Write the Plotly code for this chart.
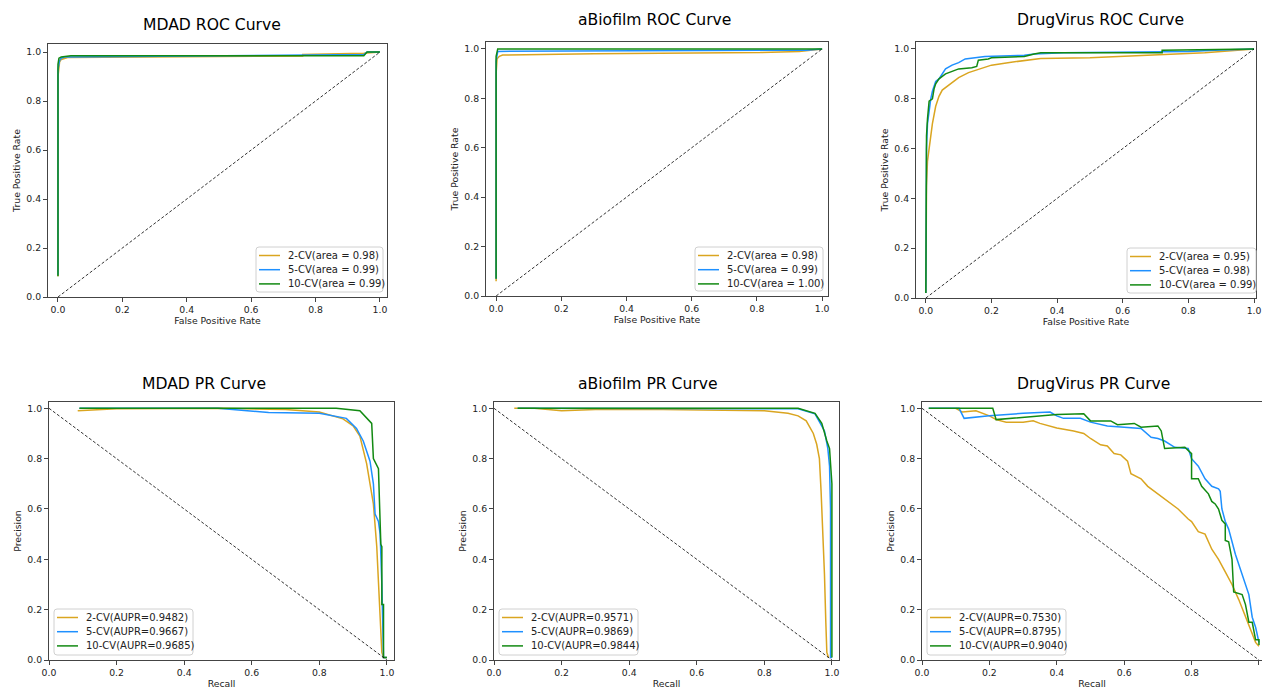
import plotly.graph_objects as go

W, H = 1262, 689

# ---------------- DATA ----------------
series_names = ["2-CV", "5-CV", "10-CV"]

# MDAD ROC
mdad_roc_2cv_fpr = [0.0, 0.0, 0.005, 0.01, 0.03, 0.3, 0.76, 0.76, 0.95, 1.0]
mdad_roc_2cv_tpr = [0.085, 0.90, 0.96, 0.97, 0.978, 0.98, 0.984, 0.99, 0.995, 1.0]
mdad_roc_5cv_fpr = [0.0, 0.0, 0.005, 0.01, 0.02, 0.5, 0.95, 0.96, 1.0]
mdad_roc_5cv_tpr = [0.09, 0.93, 0.965, 0.975, 0.98, 0.985, 0.99, 1.0, 1.0]
mdad_roc_10cv_fpr = [0.0, 0.0, 0.003, 0.01, 0.04, 0.5, 0.95, 0.96, 1.0]
mdad_roc_10cv_tpr = [0.085, 0.95, 0.975, 0.98, 0.985, 0.985, 0.985, 1.0, 1.0]
mdad_roc_auc = ["0.98", "0.99", "0.99"]

# aBiofilm ROC
abio_roc_2cv_fpr = [0.0, 0.0, 0.003, 0.01, 0.02, 0.3, 0.81, 0.93, 1.0]
abio_roc_2cv_tpr = [0.06, 0.90, 0.96, 0.97, 0.975, 0.98, 0.985, 0.99, 1.0]
abio_roc_5cv_fpr = [0.0, 0.0, 0.005, 0.93, 0.95, 1.0]
abio_roc_5cv_tpr = [0.07, 0.95, 0.99, 0.992, 0.995, 1.0]
abio_roc_10cv_fpr = [0.0, 0.0, 0.005, 1.0]
abio_roc_10cv_tpr = [0.07, 0.97, 1.0, 1.0]
abio_roc_auc = ["0.98", "0.99", "1.00"]

# DrugVirus ROC
drug_roc_2cv_fpr = [0.0, 0.002, 0.005, 0.01, 0.015, 0.02, 0.03, 0.04, 0.05, 0.07, 0.1,
                    0.13, 0.16, 0.2, 0.25, 0.3, 0.35, 0.5, 0.6, 0.7, 0.85, 0.95, 1.0]
drug_roc_2cv_tpr = [0.02, 0.45, 0.55, 0.60, 0.65, 0.70, 0.77, 0.81, 0.835, 0.855, 0.885,
                    0.905, 0.918, 0.935, 0.945, 0.952, 0.962, 0.965, 0.97, 0.978, 0.985, 0.995, 1.0]
drug_roc_5cv_fpr = [0.0, 0.002, 0.005, 0.01, 0.015, 0.02, 0.03, 0.04, 0.05, 0.06, 0.08, 0.1,
                    0.12, 0.15, 0.18, 0.3, 0.33, 0.42, 0.8, 0.88, 1.0]
drug_roc_5cv_tpr = [0.02, 0.60, 0.70, 0.76, 0.80, 0.83, 0.87, 0.88, 0.90, 0.92, 0.935, 0.945,
                    0.96, 0.965, 0.97, 0.975, 0.98, 0.985, 0.99, 0.995, 1.0]
drug_roc_10cv_fpr = [0.0, 0.002, 0.005, 0.01, 0.02, 0.025, 0.03, 0.04, 0.05, 0.06, 0.08, 0.1,
                     0.14, 0.155, 0.16, 0.19, 0.2, 0.3, 0.33, 0.35, 0.72, 0.72, 1.0]
drug_roc_10cv_tpr = [0.02, 0.65, 0.72, 0.79, 0.80, 0.84, 0.86, 0.88, 0.89, 0.90, 0.91, 0.92,
                     0.925, 0.93, 0.955, 0.96, 0.965, 0.97, 0.98, 0.985, 0.985, 0.995, 1.0]
drug_roc_auc = ["0.95", "0.98", "0.99"]

# MDAD PR
mdad_pr_2cv_rec = [0.085, 0.2, 0.5, 0.7, 0.8, 0.87, 0.9, 0.92, 0.94, 0.95, 0.96, 0.97,
                   0.975, 0.98, 0.985, 0.99, 1.0]
mdad_pr_2cv_prec = [0.99, 0.998, 1.0, 0.995, 0.985, 0.958, 0.93, 0.89, 0.78, 0.70, 0.62, 0.45,
                    0.32, 0.15, 0.03, 0.01, 0.01]
mdad_pr_5cv_rec = [0.09, 0.5, 0.65, 0.8, 0.88, 0.91, 0.93, 0.95, 0.96, 0.965, 0.975, 0.98,
                   0.985, 0.99, 1.0]
mdad_pr_5cv_prec = [1.0, 1.0, 0.983, 0.98, 0.96, 0.92, 0.87, 0.79, 0.70, 0.58, 0.55, 0.50,
                    0.30, 0.01, 0.01]
mdad_pr_10cv_rec = [0.09, 0.85, 0.92, 0.955, 0.96, 0.975, 0.978, 0.982, 0.985, 0.985, 0.99,
                    0.99, 1.0]
mdad_pr_10cv_prec = [1.0, 1.0, 0.99, 0.94, 0.80, 0.76, 0.63, 0.46, 0.45, 0.22, 0.22, 0.01, 0.01]
mdad_pr_aupr = ["0.9482", "0.9667", "0.9685"]

# aBiofilm PR
abio_pr_2cv_rec = [0.06, 0.12, 0.2, 0.3, 0.5, 0.8, 0.87, 0.9, 0.924, 0.945, 0.955, 0.963,
                   0.968, 0.973, 0.978, 0.982, 0.985, 0.99]
abio_pr_2cv_prec = [1.0, 1.0, 0.99, 0.995, 0.995, 0.99, 0.98, 0.97, 0.95, 0.90, 0.857, 0.80,
                    0.67, 0.51, 0.34, 0.15, 0.03, 0.01]
abio_pr_5cv_rec = [0.07, 0.9, 0.95, 0.978, 0.988, 0.993, 0.996, 0.996, 1.0]
abio_pr_5cv_prec = [1.0, 0.998, 0.978, 0.91, 0.84, 0.77, 0.60, 0.01, 0.01]
abio_pr_10cv_rec = [0.07, 0.9, 0.95, 0.97, 0.985, 0.993, 1.0, 1.0]
abio_pr_10cv_prec = [1.0, 1.0, 0.98, 0.94, 0.87, 0.84, 0.70, 0.01]
abio_pr_aupr = ["0.9571", "0.9869", "0.9844"]

# DrugVirus PR
drug_pr_2cv_rec = [0.1, 0.12, 0.16, 0.2, 0.22, 0.25, 0.3, 0.33, 0.35, 0.4, 0.45, 0.48, 0.5,
                   0.53, 0.55, 0.57, 0.59, 0.61, 0.62, 0.65, 0.67, 0.7, 0.73, 0.76, 0.79,
                   0.8, 0.82, 0.84, 0.86, 0.88, 0.9, 0.92, 0.94, 0.96, 0.98, 0.99, 1.0]
drug_pr_2cv_prec = [1.0, 0.985, 0.99, 0.97, 0.955, 0.945, 0.945, 0.95, 0.94, 0.922, 0.91, 0.90,
                    0.88, 0.855, 0.85, 0.82, 0.815, 0.79, 0.74, 0.72, 0.69, 0.66, 0.63, 0.60,
                    0.56, 0.55, 0.51, 0.50, 0.44, 0.40, 0.35, 0.30, 0.24, 0.17, 0.10, 0.07, 0.055]
drug_pr_5cv_rec = [0.02, 0.11, 0.125, 0.2, 0.3, 0.38, 0.4, 0.42, 0.47, 0.5, 0.55, 0.6, 0.65,
                   0.68, 0.7, 0.72, 0.75, 0.79, 0.8, 0.82, 0.84, 0.86, 0.88, 0.885, 0.89,
                   0.9, 0.91, 0.93, 0.95, 0.97, 0.98, 0.99, 1.0]
drug_pr_5cv_prec = [1.0, 1.0, 0.96, 0.97, 0.98, 0.985, 0.97, 0.96, 0.96, 0.945, 0.93, 0.925,
                    0.92, 0.885, 0.88, 0.87, 0.845, 0.84, 0.80, 0.77, 0.72, 0.69, 0.68, 0.67,
                    0.60, 0.55, 0.52, 0.42, 0.34, 0.26, 0.17, 0.13, 0.07]
drug_pr_10cv_rec = [0.02, 0.21, 0.22, 0.3, 0.4, 0.48, 0.5, 0.56, 0.58, 0.63, 0.65, 0.7, 0.71,
                    0.72, 0.78, 0.8, 0.8, 0.82, 0.83, 0.85, 0.86, 0.87, 0.88, 0.89, 0.9, 0.9,
                    0.91, 0.92, 0.925, 0.95, 0.96, 0.97, 0.98, 0.99, 1.0, 1.0]
drug_pr_10cv_prec = [1.0, 1.0, 0.955, 0.965, 0.975, 0.978, 0.95, 0.95, 0.935, 0.94, 0.925, 0.93,
                     0.91, 0.84, 0.845, 0.82, 0.72, 0.72, 0.69, 0.66, 0.63, 0.62, 0.60, 0.555,
                     0.54, 0.475, 0.47, 0.40, 0.27, 0.26, 0.22, 0.15, 0.15, 0.08, 0.08, 0.06]
drug_pr_aupr = ["0.7530", "0.8795", "0.9040"]

tick_vals = [0.0, 0.2, 0.4, 0.6, 0.8, 1.0]
tick_text = ["0.0", "0.2", "0.4", "0.6", "0.8", "1.0"]

# ---------------- STYLE / LAYOUT ----------------
colors = ["#DAA520", "#1E90FF", "#128A12"]
FONT = "DejaVu Sans"

panels = [
    dict(title="MDAD ROC Curve", xl="False Positive Rate", yl="True Positive Rate",
         curves=[(mdad_roc_2cv_fpr, mdad_roc_2cv_tpr), (mdad_roc_5cv_fpr, mdad_roc_5cv_tpr),
                 (mdad_roc_10cv_fpr, mdad_roc_10cv_tpr)],
         labels=[f"{n}(area = {a})" for n, a in zip(series_names, mdad_roc_auc)],
         diag=([0, 1], [0, 1]), box=(48, 44, 387, 297), xr=(-0.031, 1.022), yr=(0, 1.033),
         tc=(212, 25), leg=(256, 247, 383, 292), mirror_y=True),
    dict(title="aBiofilm ROC Curve", xl="False Positive Rate", yl="True Positive Rate",
         curves=[(abio_roc_2cv_fpr, abio_roc_2cv_tpr), (abio_roc_5cv_fpr, abio_roc_5cv_tpr),
                 (abio_roc_10cv_fpr, abio_roc_10cv_tpr)],
         labels=[f"{n}(area = {a})" for n, a in zip(series_names, abio_roc_auc)],
         diag=([0, 1], [0, 1]), box=(486, 42, 828, 296), xr=(-0.031, 1.018), yr=(0, 1.028),
         tc=(654, 20), leg=(695, 247, 823, 291), mirror_y=True),
    dict(title="DrugVirus ROC Curve", xl="False Positive Rate", yl="True Positive Rate",
         curves=[(drug_roc_2cv_fpr, drug_roc_2cv_tpr), (drug_roc_5cv_fpr, drug_roc_5cv_tpr),
                 (drug_roc_10cv_fpr, drug_roc_10cv_tpr)],
         labels=[f"{n}(area = {a})" for n, a in zip(series_names, drug_roc_auc)],
         diag=([0, 1], [0, 1]), box=(916, 42, 1256, 298), xr=(-0.030, 1.006), yr=(0, 1.028),
         tc=(1100, 20), leg=(1127, 248, 1256, 293), mirror_y=True),
    dict(title="MDAD PR Curve", xl="Recall", yl="Precision",
         curves=[(mdad_pr_2cv_rec, mdad_pr_2cv_prec), (mdad_pr_5cv_rec, mdad_pr_5cv_prec),
                 (mdad_pr_10cv_rec, mdad_pr_10cv_prec)],
         labels=[f"{n}(AUPR={a})" for n, a in zip(series_names, mdad_pr_aupr)],
         diag=([0, 1], [1, 0]), box=(49, 402, 394, 660), xr=(0, 1.021), yr=(0, 1.025),
         tc=(204, 384), leg=(54, 609, 193, 655), mirror_y=True),
    dict(title="aBiofilm PR Curve", xl="Recall", yl="Precision",
         curves=[(abio_pr_2cv_rec, abio_pr_2cv_prec), (abio_pr_5cv_rec, abio_pr_5cv_prec),
                 (abio_pr_10cv_rec, abio_pr_10cv_prec)],
         labels=[f"{n}(AUPR={a})" for n, a in zip(series_names, abio_pr_aupr)],
         diag=([0, 1], [1, 0]), box=(494, 402, 839, 660), xr=(0, 1.021), yr=(0, 1.025),
         tc=(648, 384), leg=(499, 609, 638, 655), mirror_y=True),
    dict(title="DrugVirus PR Curve", xl="Recall", yl="Precision",
         curves=[(drug_pr_2cv_rec, drug_pr_2cv_prec), (drug_pr_5cv_rec, drug_pr_5cv_prec),
                 (drug_pr_10cv_rec, drug_pr_10cv_prec)],
         labels=[f"{n}(AUPR={a})" for n, a in zip(series_names, drug_pr_aupr)],
         diag=([0, 1], [1, 0]), box=(922, 402, 1262, 660), xr=(0, 1.009), yr=(0, 1.025),
         tc=(1093, 384), leg=(927, 609, 1066, 655), mirror_y=False),
]


def px(x):
    return x / W


def py(y):
    return 1 - y / H


def rounded_rect(l, t, r, b, rad=3):
    pts = [
        f"M {px(l + rad)},{py(t)}", f"L {px(r - rad)},{py(t)}", f"Q {px(r)},{py(t)} {px(r)},{py(t + rad)}",
        f"L {px(r)},{py(b - rad)}", f"Q {px(r)},{py(b)} {px(r - rad)},{py(b)}",
        f"L {px(l + rad)},{py(b)}", f"Q {px(l)},{py(b)} {px(l)},{py(b - rad)}",
        f"L {px(l)},{py(t + rad)}", f"Q {px(l)},{py(t)} {px(l + rad)},{py(t)}", "Z"]
    return " ".join(pts)


fig = go.Figure()
layout = dict(width=W, height=H, margin=dict(l=0, r=0, t=0, b=0, autoexpand=False),
              paper_bgcolor="white", plot_bgcolor="white", showlegend=False,
              font=dict(family=FONT, size=9.3, color="#222"), annotations=[], shapes=[])

for i, p in enumerate(panels, start=1):
    xa = "x" if i == 1 else f"x{i}"
    ya = "y" if i == 1 else f"y{i}"
    l, t, r, b = p["box"]
    for (xs, ys), lab, c in zip(p["curves"], p["labels"], colors):
        fig.add_trace(go.Scatter(x=xs, y=ys, mode="lines", name=lab, xaxis=xa, yaxis=ya,
                                 line=dict(color=c, width=1.5)))
    fig.add_trace(go.Scatter(x=p["diag"][0], y=p["diag"][1], mode="lines", name="chance",
                             xaxis=xa, yaxis=ya, hoverinfo="skip",
                             line=dict(color="black", width=0.8, dash="3px,2px")))
    axis_common = dict(showgrid=False, zeroline=False, showline=True, linecolor="#444",
                       linewidth=1, ticks="outside", ticklen=4, tickcolor="#444",
                       tickvals=tick_vals, ticktext=tick_text, automargin=False,
                       tickfont=dict(family=FONT, size=9.3, color="#222"))
    layout["xaxis" if i == 1 else f"xaxis{i}"] = dict(
        axis_common, domain=[px(l), px(r)], range=list(p["xr"]), anchor=ya, mirror=True,
        title=dict(text=p["xl"], standoff=3, font=dict(family=FONT, size=9.3, color="#222")))
    layout["yaxis" if i == 1 else f"yaxis{i}"] = dict(
        axis_common, domain=[py(b), py(t)], range=list(p["yr"]), anchor=xa,
        mirror=p["mirror_y"],
        title=dict(text=p["yl"], standoff=4, font=dict(family=FONT, size=9.3, color="#222")))

    # legend drawn as a framed box with line samples and text entries
    ll, lt, lr, lb = p["leg"]
    layout["shapes"].append(dict(type="path", path=rounded_rect(ll, lt, lr, lb),
                                 xref="paper", yref="paper", fillcolor="rgba(255,255,255,0.85)",
                                 line=dict(color="#d0d0d0", width=1), layer="above"))
    for k, (lab, c) in enumerate(zip(p["labels"], colors)):
        yc = lt + 8.5 + 14.2 * k
        layout["shapes"].append(dict(type="line", xref="paper", yref="paper",
                                     x0=px(ll + 3), x1=px(ll + 24), y0=py(yc), y1=py(yc),
                                     line=dict(color=c, width=1.5), layer="above"))
        layout["annotations"].append(dict(
            text=lab, x=px(ll + 30), y=py(yc), xref="paper", yref="paper",
            xanchor="left", yanchor="middle", showarrow=False,
            font=dict(family=FONT, size=10, color="#222")))

    layout["annotations"].append(dict(
        text=p["title"], x=px(p["tc"][0]), y=py(p["tc"][1]), xref="paper", yref="paper",
        xanchor="center", yanchor="middle", showarrow=False,
        font=dict(family=FONT, size=15.6, color="black")))

fig.update_layout(**layout)
fig.write_html("out.html", config={"displayModeBar": False},
               post_script="document.body.style.margin='0';document.body.style.overflow='hidden';")
